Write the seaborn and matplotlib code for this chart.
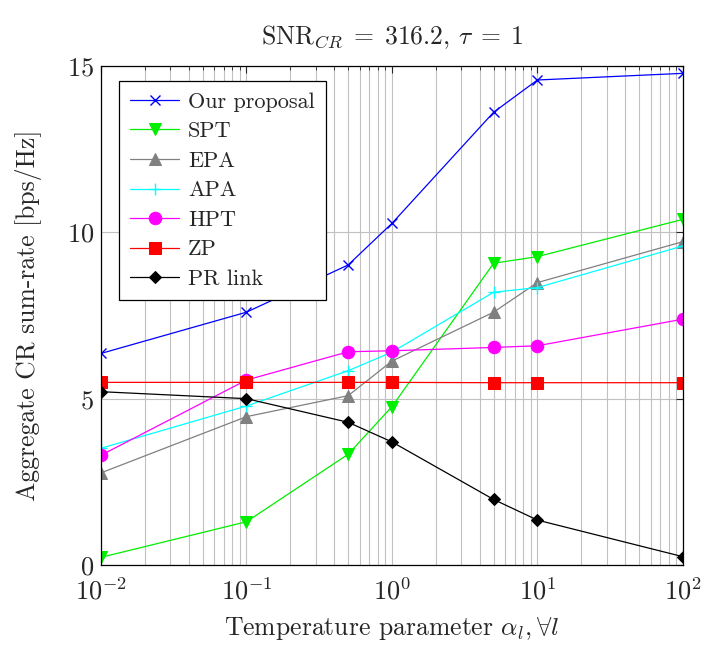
import numpy as np
import pandas as pd
import matplotlib
matplotlib.use("Agg")
import matplotlib.pyplot as plt
import seaborn as sns

alpha = [0.01, 0.1, 0.5, 1, 5, 10, 100]
our_proposal = [6.36, 7.60, 9.02, 10.27, 13.61, 14.58, 14.78]
spt = [0.23, 1.30, 3.33, 4.76, 9.07, 9.27, 10.39]
epa = [2.77, 4.46, 5.09, 6.13, 7.60, 8.49, 9.72]
apa = [3.51, 4.78, 5.84, 6.40, 8.20, 8.34, 9.59]
hpt = [3.30, 5.56, 6.41, 6.44, 6.54, 6.59, 7.39]
zp = [5.49, 5.49, 5.49, 5.49, 5.48, 5.48, 5.48]
pr_link = [5.21, 5.00, 4.29, 3.70, 1.97, 1.35, 0.25]

series = [
    ("Our proposal", our_proposal, "blue", "x", 7),
    ("SPT", spt, "#00ee00", "v", 8),
    ("EPA", epa, "gray", "^", 8),
    ("APA", apa, "cyan", "+", 8),
    ("HPT", hpt, "magenta", "o", 9),
    ("ZP", zp, "red", "s", 8.5),
    ("PR link", pr_link, "black", "D", 6),
]

sns.set_style("white")
plt.rcParams["font.family"] = ["cmr10", "DejaVu Serif"]
plt.rcParams["mathtext.fontset"] = "cm"
plt.rcParams["axes.formatter.use_mathtext"] = True

fig = plt.figure(figsize=(7.04, 6.46), dpi=100)
ax = fig.add_axes([0.1435, 0.1254, 0.970 - 0.1435, 0.8978 - 0.1254])

for name, vals, color, marker, ms in series:
    df = pd.DataFrame({"alpha": alpha, "rate": vals})
    kw = dict(markeredgecolor=color)
    if marker in ("x", "+"):
        kw["markeredgewidth"] = 1.0
    sns.lineplot(data=df, x="alpha", y="rate", ax=ax, color=color, marker=marker,
                 markersize=ms, linewidth=0.9, label=name, **kw)

ax.set_xscale("log")
ax.set_xlim(0.01, 100)
ax.set_ylim(0, 15)
ax.set_yticks([0, 5, 10, 15])
ax.set_xticks([0.01, 0.1, 1, 10, 100])
ax.set_xticklabels([r"$10^{-2}$", r"$10^{-1}$", r"$10^{0}$", r"$10^{1}$", r"$10^{2}$"])
ax.xaxis.set_minor_locator(matplotlib.ticker.LogLocator(base=10, subs=np.arange(2, 10), numticks=20))
ax.xaxis.set_minor_formatter(matplotlib.ticker.NullFormatter())
ax.grid(True, which="major", color="#c0c0c0", linewidth=0.8)
ax.grid(True, which="minor", axis="x", color="#c0c0c0", linewidth=0.8)
ax.set_axisbelow(True)
ax.tick_params(which="both", direction="in", top=True, right=True, labelsize=19)
ax.tick_params(axis="x", which="major", pad=9)
ax.tick_params(axis="y", which="major", pad=5)
ax.tick_params(which="major", length=5)
ax.tick_params(which="minor", length=3)
for s in ax.spines.values():
    s.set_color("black")
    s.set_linewidth(0.9)

ax.set_xlabel(r"Temperature parameter $\alpha_l, \forall l$", fontsize=18.5, labelpad=8)
ax.set_ylabel("Aggregate CR sum-rate [bps/Hz]", fontsize=18.5, labelpad=18)
ax.set_title(r"$\mathrm{SNR}_{CR}\;=\;316.2,\,\tau\;=\;1$", fontsize=18.5, pad=16)

leg = ax.legend(loc="upper left", bbox_to_anchor=(0.031, 0.970), borderaxespad=0,
                fontsize=16, frameon=True, fancybox=False, edgecolor="black",
                framealpha=1, handlelength=2.2, handletextpad=0.4,
                labelspacing=0.45, borderpad=0.5)
leg.get_frame().set_linewidth(0.9)

fig.savefig("out.png", dpi=100)
